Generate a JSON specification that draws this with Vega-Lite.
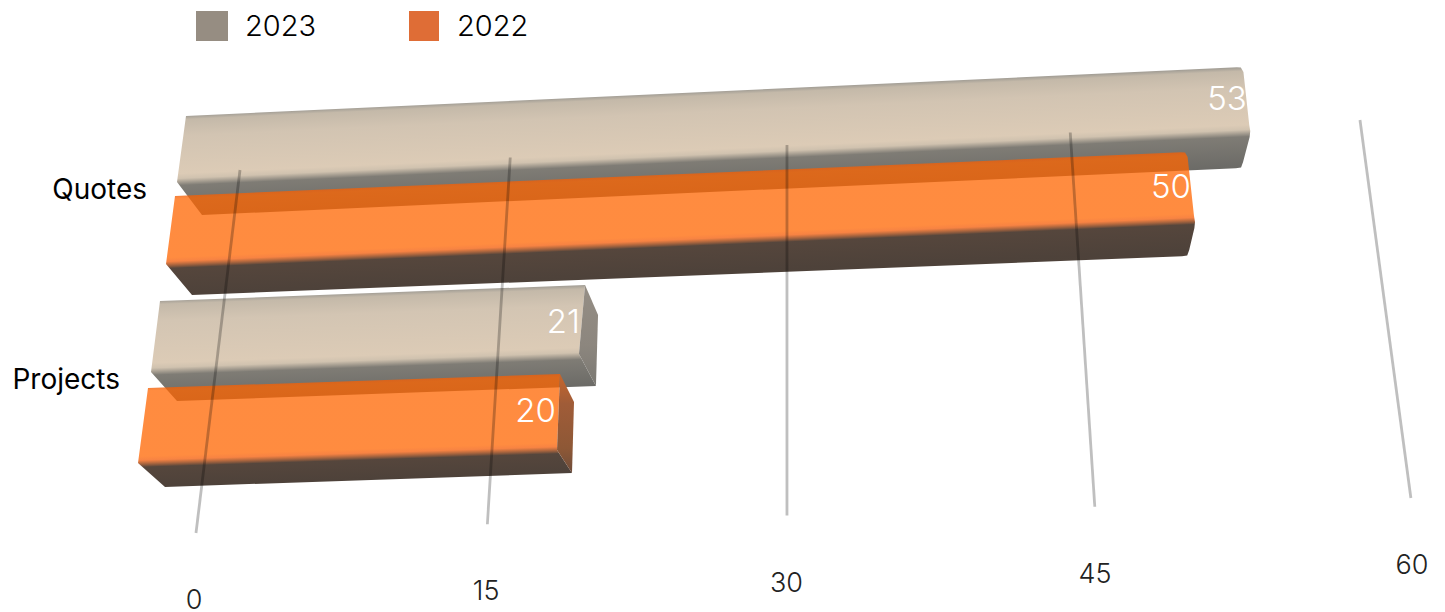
{
  "$schema": "https://vega.github.io/schema/vega-lite/v6.json",
  "width": 1445,
  "height": 612,
  "padding": 0,
  "autosize": {"type": "none"},
  "background": "white",
  "config": {"view": {"stroke": null}},
  "datasets": {
    "bars": [
      {"category": "Quotes", "series": "2023", "value": 53},
      {"category": "Quotes", "series": "2022", "value": 50},
      {"category": "Projects", "series": "2023", "value": 21},
      {"category": "Projects", "series": "2022", "value": 20}
    ],
    "ticks": [{"tick": 0}, {"tick": 15}, {"tick": 30}, {"tick": 45}, {"tick": 60}],
    "categories": [{"category": "Quotes"}, {"category": "Projects"}],
    "years": [{"series": "2023"}, {"series": "2022"}]
  },
  "layer": [
    {
      "data": {"name": "bars"},
      "transform": [
        {"calculate": "datum.category === 'Quotes' ? (datum.series === '2023' ? 0 : 1) : (datum.series === '2023' ? 2 : 3)", "as": "r"},
        {"calculate": "[0, 1, 2, 3, 4, 5, 6, 7, 8, 9, 10, 11, 12, 13, 14, 15]", "as": "vertex"},
        {"flatten": ["vertex"]},
        {"calculate": "[0, 1, 1, 1, 1, 1, 1, 1, 1, 1, 0, 0, 1, 1, 1, 1][datum.vertex]", "as": "u"},
        {"calculate": "[0, 0, 0, 0, 1, 1, 1, 2, 2, 2, 2, 1, 0, 3, 2, 1][datum.vertex]", "as": "w"},
        {"calculate": "datum.value > 30 ? 1 : 0", "as": "round"},
        {"calculate": "datum.round * [0, -6, -2, 0.6, -1, 0, -0.6, 1.2, -0.8, -6, 0, 0, 0, 0, 0, 0][datum.vertex]", "as": "dx"},
        {"calculate": "datum.round * [0, 0.3, 0.6, 5, -6, 0, 6, -6, -0.6, 0.3, 0, 0, 0, 0, 0, 0][datum.vertex]", "as": "dy"},
        {"calculate": "[[186, 177, 202, 186], [175, 166, 192, 175], [160, 151, 177, 173], [148, 138, 165, 162]][datum.r][datum.w]", "as": "x0"},
        {"calculate": "[[116, 182, 215, 116], [196, 264, 295, 196], [301, 372, 401, 331], [388, 463, 487, 416]][datum.r][datum.w]", "as": "y0"},
        {"calculate": "[[19.94, 20.25, 19.62, 19.94], [20.24, 20.58, 19.92, 20.24], [20.24, 20.38, 19.95, 20.24], [20.6, 20.95, 20.35, 20.6]][datum.r][datum.w]", "as": "kx"},
        {"calculate": "[[-0.925, -0.962, -0.887, -0.925], [-0.88, -0.84, -0.78, -0.88], [-0.762, -0.857, -0.714, -0.762], [-0.7, -0.65, -0.7, -0.7]][datum.r][datum.w]", "as": "ky"},
        {"calculate": "datum.x0 + datum.u * datum.kx * datum.value + datum.dx", "as": "sx"},
        {"calculate": "datum.y0 + datum.u * datum.ky * datum.value + datum.dy", "as": "sy"}
      ],
      "encoding": {
        "x": {"field": "sx", "type": "quantitative", "scale": {"domain": [0, 1445], "range": [0, 1445]}, "axis": null},
        "y": {"field": "sy", "type": "quantitative", "scale": {"domain": [0, 612], "range": [0, 612]}, "axis": null},
        "order": {"field": "vertex", "type": "quantitative"}
      },
      "layer": [
        {
          "transform": [{"filter": "datum.r === 0 && datum.vertex < 12"}],
          "mark": {
            "type": "line", "interpolate": "linear-closed", "strokeWidth": 0,
            "fill": {"gradient": "linear", "x1": 1, "y1": 0, "x2": 1.2, "y2": 0.603, "stops": [
              {"offset": 0, "color": "#a5a097"},
              {"offset": 0.035, "color": "#c4b9a9"},
              {"offset": 0.2, "color": "#d2c4b2"},
              {"offset": 0.58, "color": "#dccbb6"},
              {"offset": 0.63, "color": "#d0c2af"},
              {"offset": 0.7, "color": "#7f7c75"},
              {"offset": 1, "color": "#6c6b67"}
            ]}
          }
        },
        {
          "transform": [{"filter": "datum.r === 2 && datum.vertex < 12"}],
          "mark": {
            "type": "line", "interpolate": "linear-closed", "strokeWidth": 0,
            "fill": {"gradient": "linear", "x1": 1, "y1": 0, "x2": 1.117, "y2": 0.846, "stops": [
              {"offset": 0, "color": "#a5a097"},
              {"offset": 0.035, "color": "#c4b9a9"},
              {"offset": 0.2, "color": "#d3c5b3"},
              {"offset": 0.62, "color": "#dccbb6"},
              {"offset": 0.67, "color": "#d0c2af"},
              {"offset": 0.74, "color": "#7f7c75"},
              {"offset": 1, "color": "#6c6b67"}
            ]}
          }
        },
        {
          "transform": [{"filter": "datum.r === 2 && datum.vertex >= 12"}],
          "mark": {
            "type": "line", "interpolate": "linear-closed", "strokeWidth": 0,
            "fill": {"gradient": "linear", "x1": 0, "y1": 0, "x2": 0, "y2": 1, "stops": [
              {"offset": 0, "color": "#958e85"},
              {"offset": 0.6, "color": "#8c867e"},
              {"offset": 1, "color": "#7a7872"}
            ]}
          }
        },
        {
          "transform": [{"filter": "datum.r === 1 && datum.vertex < 12"}],
          "mark": {
            "type": "line", "interpolate": "linear-closed", "strokeWidth": 0,
            "fill": {"gradient": "linear", "x1": 1, "y1": 0, "x2": 1.195, "y2": 0.632, "stops": [
              {"offset": 0, "color": "rgba(240,96,10,0.8)"},
              {"offset": 0.03, "color": "rgba(255,101,0,0.75)"},
              {"offset": 0.62, "color": "rgba(255,101,0,0.75)"},
              {"offset": 0.66, "color": "rgba(245,100,20,0.8)"},
              {"offset": 0.73, "color": "rgba(80,64,54,0.97)"},
              {"offset": 1, "color": "rgba(74,62,54,0.98)"}
            ]}
          }
        },
        {
          "transform": [{"filter": "datum.r === 3 && datum.vertex < 12"}],
          "mark": {
            "type": "line", "interpolate": "linear-closed", "strokeWidth": 0,
            "fill": {"gradient": "linear", "x1": 1, "y1": 0, "x2": 1.107, "y2": 0.863, "stops": [
              {"offset": 0, "color": "rgba(240,96,10,0.8)"},
              {"offset": 0.03, "color": "rgba(255,101,0,0.75)"},
              {"offset": 0.69, "color": "rgba(255,101,0,0.75)"},
              {"offset": 0.73, "color": "rgba(245,100,20,0.8)"},
              {"offset": 0.8, "color": "rgba(80,64,54,0.97)"},
              {"offset": 1, "color": "rgba(74,62,54,0.98)"}
            ]}
          }
        },
        {
          "transform": [{"filter": "datum.r === 3 && datum.vertex >= 12"}],
          "mark": {
            "type": "line", "interpolate": "linear-closed", "strokeWidth": 0,
            "fill": {"gradient": "linear", "x1": 0, "y1": 0, "x2": 0, "y2": 1, "stops": [
              {"offset": 0, "color": "#c8662c"},
              {"offset": 0.3, "color": "#a05c38"},
              {"offset": 0.75, "color": "#8e5836"},
              {"offset": 1, "color": "#6e4c3a"}
            ]}
          }
        }
      ]
    },
    {
      "data": {"name": "ticks"},
      "transform": [
        {"calculate": "240 + 17.8 * datum.tick + 0.01444 * datum.tick * datum.tick", "as": "xTop"},
        {"calculate": "170 - 0.833 * datum.tick", "as": "yTop"},
        {"calculate": "196 + 19.15 * datum.tick + 0.0183 * datum.tick * datum.tick", "as": "xBase"},
        {"calculate": "533 - 0.583 * datum.tick", "as": "yBase"}
      ],
      "mark": {"type": "rule", "stroke": "black", "strokeOpacity": 0.25, "strokeWidth": 2.8},
      "encoding": {
        "x": {"field": "xTop", "type": "quantitative", "scale": {"domain": [0, 1445], "range": [0, 1445]}, "axis": null},
        "y": {"field": "yTop", "type": "quantitative", "scale": {"domain": [0, 612], "range": [0, 612]}, "axis": null},
        "x2": {"field": "xBase"},
        "y2": {"field": "yBase"}
      }
    },
    {
      "data": {"name": "ticks"},
      "transform": [
        {"calculate": "194 + 19.2 * datum.tick + 0.0183 * datum.tick * datum.tick", "as": "xLabel"},
        {"calculate": "601 - 0.583 * datum.tick", "as": "yLabel"}
      ],
      "mark": {"type": "text", "font": "Inter", "fontWeight": 300, "fontSize": 27, "color": "#222222", "align": "center", "baseline": "middle"},
      "encoding": {
        "x": {"field": "xLabel", "type": "quantitative", "scale": {"domain": [0, 1445], "range": [0, 1445]}, "axis": null},
        "y": {"field": "yLabel", "type": "quantitative", "scale": {"domain": [0, 612], "range": [0, 612]}, "axis": null},
        "text": {"field": "tick", "type": "quantitative"}
      }
    },
    {
      "data": {"name": "bars"},
      "transform": [
        {"calculate": "datum.category === 'Quotes' ? (datum.series === '2023' ? 0 : 1) : (datum.series === '2023' ? 2 : 3)", "as": "r"},
        {"calculate": "[186, 175, 160, 148][datum.r] + [19.94, 20.24, 20.24, 20.6][datum.r] * datum.value + [4, 4, -5, -4][datum.r]", "as": "sx"},
        {"calculate": "[116, 196, 301, 388][datum.r] + [-0.925, -0.88, -0.762, -0.7][datum.r] * datum.value + [33, 36, 38, 38][datum.r]", "as": "sy"}
      ],
      "mark": {"type": "text", "font": "Inter", "fontWeight": 300, "fontSize": 33, "color": "white", "align": "right", "baseline": "middle"},
      "encoding": {
        "x": {"field": "sx", "type": "quantitative", "scale": {"domain": [0, 1445], "range": [0, 1445]}, "axis": null},
        "y": {"field": "sy", "type": "quantitative", "scale": {"domain": [0, 612], "range": [0, 612]}, "axis": null},
        "text": {"field": "value", "type": "quantitative"}
      }
    },
    {
      "data": {"name": "categories"},
      "transform": [
        {"calculate": "datum.category === 'Quotes' ? 147 : 120", "as": "sx"},
        {"calculate": "datum.category === 'Quotes' ? 191 : 381", "as": "sy"}
      ],
      "mark": {"type": "text", "font": "Inter", "fontWeight": 400, "fontSize": 28, "color": "black", "align": "right", "baseline": "middle"},
      "encoding": {
        "x": {"field": "sx", "type": "quantitative", "scale": {"domain": [0, 1445], "range": [0, 1445]}, "axis": null},
        "y": {"field": "sy", "type": "quantitative", "scale": {"domain": [0, 612], "range": [0, 612]}, "axis": null},
        "text": {"field": "category", "type": "nominal"}
      }
    },
    {
      "data": {"name": "years"},
      "transform": [
        {"calculate": "datum.series === '2023' ? 196 : 409", "as": "x1"},
        {"calculate": "datum.series === '2023' ? 228 : 439", "as": "x2"},
        {"calculate": "11", "as": "y1"},
        {"calculate": "41", "as": "y2"}
      ],
      "mark": {"type": "rect"},
      "encoding": {
        "x": {"field": "x1", "type": "quantitative", "scale": {"domain": [0, 1445], "range": [0, 1445]}, "axis": null},
        "x2": {"field": "x2"},
        "y": {"field": "y1", "type": "quantitative", "scale": {"domain": [0, 612], "range": [0, 612]}, "axis": null},
        "y2": {"field": "y2"},
        "color": {"field": "series", "type": "nominal", "scale": {"domain": ["2023", "2022"], "range": ["#968d82", "#df6d36"]}, "legend": null}
      }
    },
    {
      "data": {"name": "years"},
      "transform": [
        {"calculate": "datum.series === '2023' ? 245 : 457", "as": "sx"},
        {"calculate": "27", "as": "sy"}
      ],
      "mark": {"type": "text", "font": "Inter", "fontWeight": 300, "fontSize": 29, "color": "black", "align": "left", "baseline": "middle"},
      "encoding": {
        "x": {"field": "sx", "type": "quantitative", "scale": {"domain": [0, 1445], "range": [0, 1445]}, "axis": null},
        "y": {"field": "sy", "type": "quantitative", "scale": {"domain": [0, 612], "range": [0, 612]}, "axis": null},
        "text": {"field": "series", "type": "nominal"}
      }
    }
  ]
}
